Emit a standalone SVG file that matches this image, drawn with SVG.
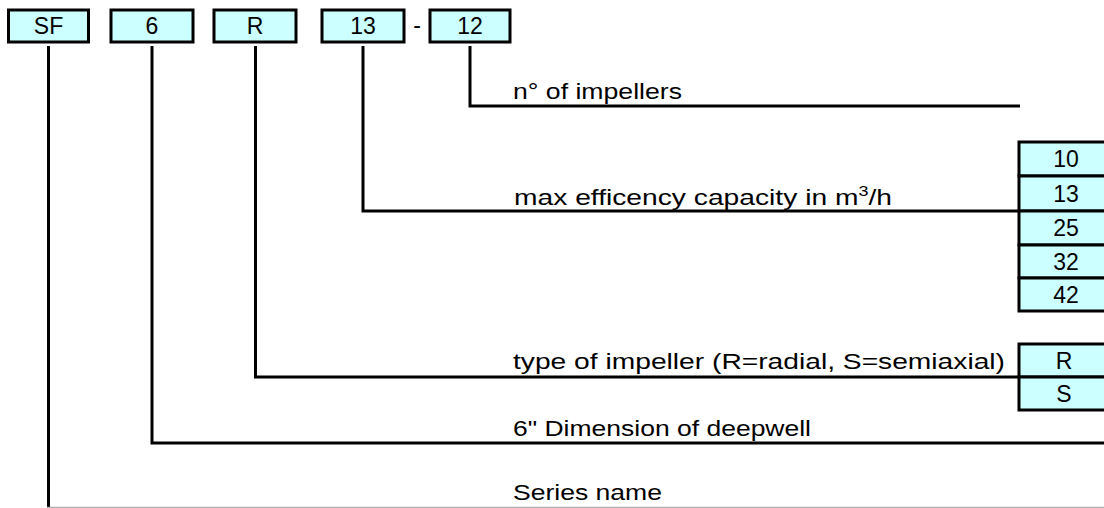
<svg xmlns="http://www.w3.org/2000/svg" width="1104" height="508" viewBox="0 0 1104 508">
<style>
.box{fill:#CCFFFF;stroke:#000;stroke-width:3}
.bl{font-family:"Liberation Sans",Arial,sans-serif;font-size:23px;text-anchor:middle;fill:#000}
.tx{font-family:"Liberation Sans",Arial,sans-serif;font-size:22px;fill:#000}
.ln{fill:none;stroke:#000;stroke-width:3}
</style>
<rect x="0" y="0" width="1104" height="508" fill="#fff"/>
<g id="connectors">
<polyline class="ln" points="48.5,46 48.5,508"/>
<line x1="47" y1="507.5" x2="1104" y2="507.5" stroke="#b0b0b0" stroke-width="1.5"/>
<polyline class="ln" points="152,46 152,443 1104,443"/>
<polyline class="ln" points="255.5,46 255.5,377 1019,377"/>
<polyline class="ln" points="363,46 363,211 1019,211"/>
<polyline class="ln" points="470,46 470,106 1020,106"/>
</g>
<g id="node-SF"><rect class="box" x="8.5" y="10" width="80" height="32"/><text class="bl" x="48.5" y="34">SF</text></g>
<g id="node-6"><rect class="box" x="111" y="10" width="82" height="32"/><text class="bl" x="152" y="34">6</text></g>
<g id="node-R"><rect class="box" x="214" y="10" width="82" height="32"/><text class="bl" x="255" y="34">R</text></g>
<g id="node-13"><rect class="box" x="322" y="10" width="82" height="32"/><text class="bl" x="363" y="34">13</text></g>
<text class="bl" x="417" y="33">-</text>
<g id="node-12"><rect class="box" x="430" y="10" width="80" height="32"/><text class="bl" x="470" y="34">12</text></g>
<g id="label-impellers"><text class="tx" x="513" y="99" textLength="169" lengthAdjust="spacingAndGlyphs">n° of impellers</text></g>
<g id="label-capacity"><text class="tx" x="514" y="205" textLength="378" lengthAdjust="spacingAndGlyphs">max efficency capacity in m<tspan font-size="14" dy="-9">3</tspan><tspan dy="9">/h</tspan></text></g>
<g id="label-type"><text class="tx" x="513" y="369" textLength="492" lengthAdjust="spacingAndGlyphs">type of impeller (R=radial, S=semiaxial)</text></g>
<g id="label-dimension"><text class="tx" x="513" y="436" textLength="298" lengthAdjust="spacingAndGlyphs">6" Dimension of deepwell</text></g>
<g id="label-series"><text class="tx" x="513" y="500" textLength="149" lengthAdjust="spacingAndGlyphs">Series name</text></g>
<g id="node-capacities">
<rect class="box" x="1019" y="142" width="100" height="34"/><text class="bl" x="1066" y="167">10</text>
<rect class="box" x="1019" y="176" width="100" height="35"/><text class="bl" x="1066" y="202">13</text>
<rect class="box" x="1019" y="211" width="100" height="34"/><text class="bl" x="1066" y="236">25</text>
<rect class="box" x="1019" y="245" width="100" height="33"/><text class="bl" x="1066" y="270">32</text>
<rect class="box" x="1019" y="278" width="100" height="33"/><text class="bl" x="1066" y="303">42</text>
</g>
<g id="node-types">
<rect class="box" x="1019" y="344" width="100" height="33"/><text class="bl" x="1064" y="369">R</text>
<rect class="box" x="1019" y="377" width="100" height="33"/><text class="bl" x="1064" y="402">S</text>
</g>
</svg>
